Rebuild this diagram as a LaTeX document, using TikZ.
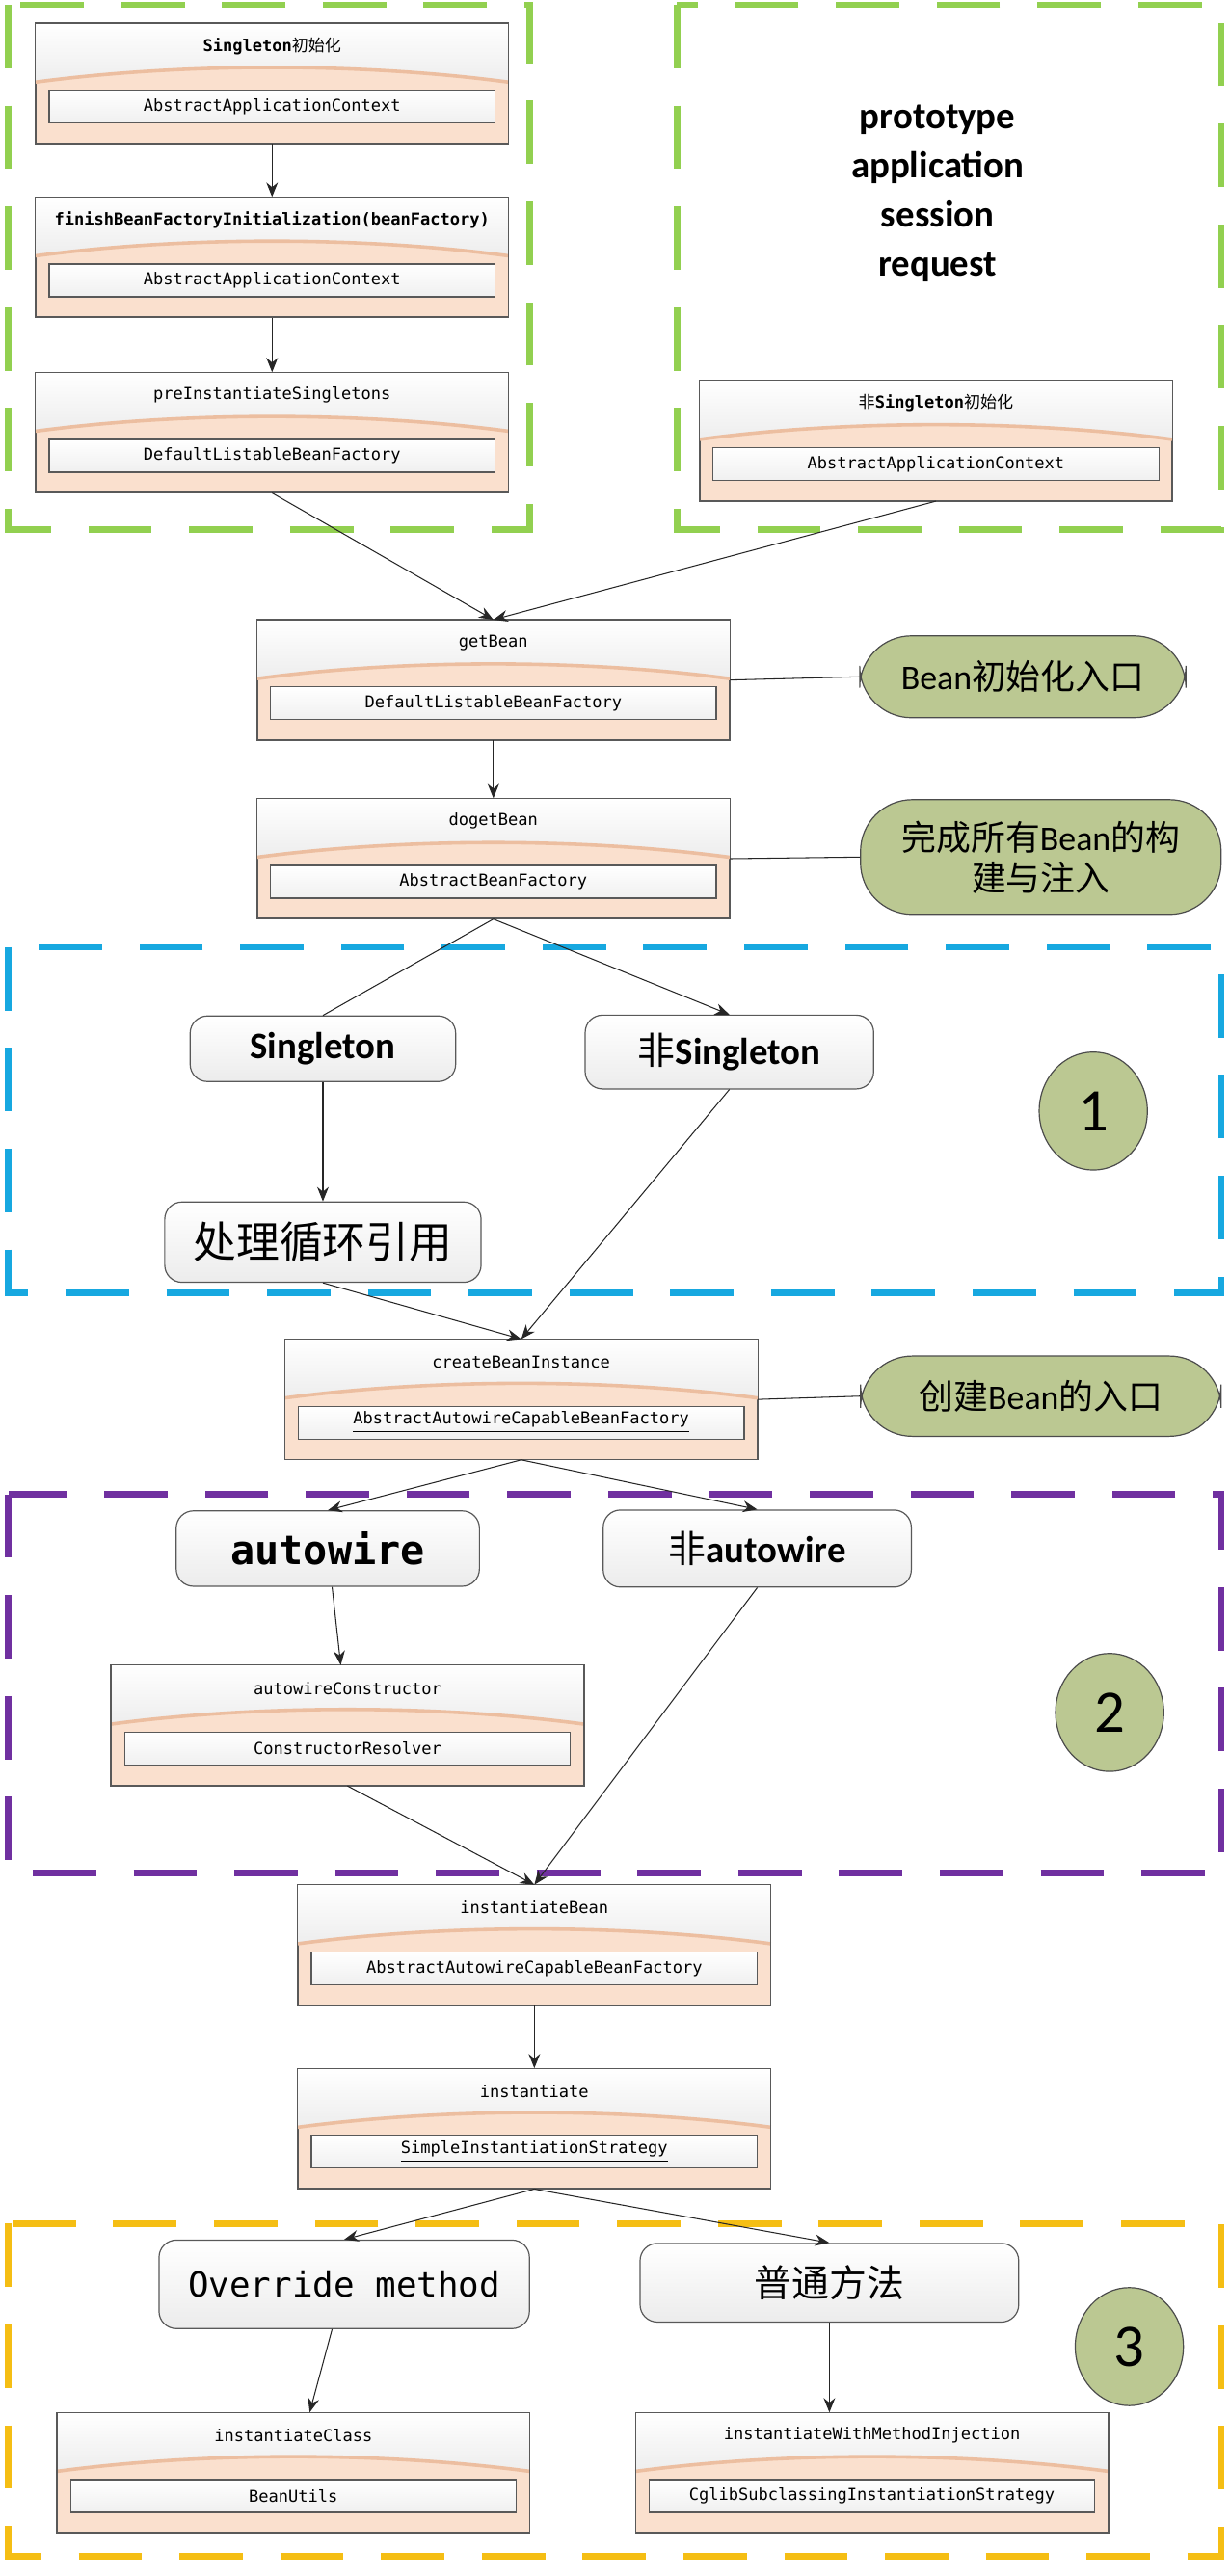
\documentclass[tikz,border=0pt]{standalone}
\usepackage{fontspec}
\setmainfont{Carlito}
\newfontfamily\mono{DejaVu Sans Mono}
\newfontfamily\cjk{Noto Sans CJK SC}
\usetikzlibrary{arrows.meta,shapes.geometric}

\def\u{0.02cm}
\definecolor{peach}{RGB}{250,224,206}
\definecolor{peachline}{RGB}{236,190,160}
\definecolor{olive}{RGB}{187,200,146}
\definecolor{grass}{RGB}{146,208,80}
\definecolor{sky}{RGB}{23,168,224}
\definecolor{plum}{RGB}{112,48,160}
\definecolor{gold}{RGB}{245,190,20}

\tikzset{
  clsbody/.style={draw=gray!70!black, fill=peach, minimum width=288*\u, minimum height=73*\u, inner sep=0pt},
  clsinner/.style={draw=gray!70!black, top color=white, bottom color=gray!12, minimum width=272*\u, minimum height=20*\u, inner sep=0pt, font=\mono\fontsize{5.7}{6}\selectfont},
  cond/.style={draw=gray!70!black, top color=white, bottom color=gray!15, rounded corners=6pt, inner sep=0pt},
  note/.style={draw=gray!60!black, fill=olive, rounded corners=18pt, inner sep=0pt, align=center, font=\fontsize{12}{14}\selectfont},
  num/.style={draw=gray!60!black, fill=olive, ellipse, minimum width=66*\u, minimum height=72*\u, font=\fontsize{21}{22}\selectfont},
  zone/.style={dash pattern=on 22pt off 13pt, line width=2.2pt},
  link/.style={draw=gray!30!black, line width=0.35pt, -{Stealth[length=5pt,width=4pt]}},
  tie/.style={draw=gray!30!black, line width=0.35pt}
}

% class box: name, cx, cy, title, sub
\newcommand{\clsbox}[5]{%
  \node[clsbody] (#1) at (#2,#3) {};
  \fill[top color=white, bottom color=gray!14] (#1.north west) -- (#1.north east) -- ([yshift=-36*\u]#1.north east)
    .. controls ([xshift=-90*\u,yshift=-24*\u]#1.north east) and ([xshift=90*\u,yshift=-24*\u]#1.north west) .. ([yshift=-36*\u]#1.north west) -- cycle;
  \draw[peachline, line width=1.2pt] ([yshift=-36*\u]#1.north east)
    .. controls ([xshift=-90*\u,yshift=-24*\u]#1.north east) and ([xshift=90*\u,yshift=-24*\u]#1.north west) .. ([yshift=-36*\u]#1.north west);
  \draw[gray!70!black] (#1.north west) rectangle (#1.south east);
  \node[font=\mono\fontsize{5.7}{6}\selectfont] (#1-t) at ([yshift=-14*\u]#1.north) {#4};
  \node[clsinner] (#1-s) at ([yshift=-51*\u]#1.north) {#5};
}

\begin{document}
\begin{tikzpicture}[x=0.02cm, y=-0.02cm]
\useasboundingbox (0,0) rectangle (750,1572);

% zones
\draw[zone, grass] (5,3) rectangle (323,323);
\draw[zone, grass] (413,3) rectangle (745,323);
\draw[zone, sky] (5,578) rectangle (745,789);
\draw[zone, plum] (5,912) rectangle (745,1143);
\draw[zone, gold] (5,1357) rectangle (745,1560);

% scopes
\node[align=center, font=\bfseries\fontsize{13}{17}\selectfont] (scopes) at (572,118) {prototype\\application\\session\\request};

% entry chain
\clsbox{sinit}{166}{51}{\textbf{Singleton}{\cjk 初始化}}{AbstractApplicationContext}
\clsbox{finish}{166}{157}{\textbf{finishBeanFactoryInitialization(beanFactory)}}{AbstractApplicationContext}
\clsbox{preinst}{166}{264}{preInstantiateSingletons}{DefaultListableBeanFactory}
\clsbox{nsinit}{571}{269}{{\cjk 非}\textbf{Singleton}{\cjk 初始化}}{AbstractApplicationContext}
\clsbox{getbean}{301}{415}{getBean}{DefaultListableBeanFactory}
\clsbox{dogetbean}{301}{524}{dogetBean}{AbstractBeanFactory}

\node[note, minimum width=199*\u, minimum height=50*\u] (entry) at (624,413) {Bean{\cjk 初始化入口}};
\node[note, minimum width=220*\u, minimum height=70*\u] (done) at (635,523) {{\cjk 完成所有}Bean{\cjk 的构}\\{\cjk 建与注入}};

% zone 1
\node[cond, minimum width=162*\u, minimum height=40*\u, font=\bfseries\fontsize{13}{14}\selectfont] (single) at (197,640) {Singleton};
\node[cond, minimum width=176*\u, minimum height=45*\u, font=\bfseries\fontsize{13}{14}\selectfont] (nsingle) at (445,642) {{\cjk\mdseries 非}Singleton};
\node[cond, minimum width=193*\u, minimum height=49*\u, font=\cjk\fontsize{15}{16}\selectfont] (cycle) at (197,758) {处理循环引用};
\node[num] (one) at (667,678) {1};

\clsbox{create}{318}{854}{createBeanInstance}{\underline{AbstractAutowireCapableBeanFactory}}
\node[note, minimum width=220*\u, minimum height=49*\u] (make) at (635,852) {{\cjk 创建}Bean{\cjk 的入口}};

% zone 2
\node[cond, minimum width=185*\u, minimum height=46*\u, font=\mono\bfseries\fontsize{14}{15}\selectfont] (auto) at (200,945) {autowire};
\node[cond, minimum width=188*\u, minimum height=47*\u, font=\bfseries\fontsize{13}{14}\selectfont] (nauto) at (462,945) {{\cjk\mdseries 非}autowire};
\clsbox{autoctor}{212}{1053}{autowireConstructor}{ConstructorResolver}
\node[num] (two) at (677,1045) {2};

\clsbox{instbean}{326}{1187}{instantiateBean}{AbstractAutowireCapableBeanFactory}
\clsbox{inst}{326}{1299}{instantiate}{\underline{SimpleInstantiationStrategy}}

% zone 3
\node[cond, minimum width=226*\u, minimum height=54*\u, font=\mono\fontsize{12}{13}\selectfont] (override) at (210,1394) {Override method};
\node[cond, minimum width=231*\u, minimum height=48*\u, font=\cjk\fontsize{13}{14}\selectfont] (plain) at (506,1393) {普通方法};
\clsbox{instclass}{179}{1509}{instantiateClass}{BeanUtils}
\clsbox{instinject}{532}{1509}{instantiateWithMethodInjection}{CglibSubclassingInstantiationStrategy}
\node[num] (three) at (689,1432) {3};

% connectors
\draw[link] (sinit) -- (finish);
\draw[link] (finish) -- (preinst);
\draw[link] (preinst.south) -- (getbean.north);
\draw[link] (nsinit.south) -- (getbean.north);
\draw[link] (getbean) -- (dogetbean);
\draw[tie] (getbean.east) -- (entry.west);
\draw[tie] (dogetbean.east) -- (done.west);
\draw[tie] (dogetbean.south) -- (single.north);
\draw[link] (dogetbean.south) -- (nsingle.north);
\draw[link] (single) -- (cycle);
\draw[link] (cycle.south) -- (create.north);
\draw[link] (nsingle.south) -- (create.north);
\draw[tie] (create.east) -- (make.west);
\draw[link] (create.south) -- (auto.north);
\draw[link] (create.south) -- (nauto.north);
\draw[link] (auto) -- (autoctor);
\draw[link] (autoctor.south) -- (instbean.north);
\draw[link] (nauto.south) -- (instbean.north);
\draw[link] (instbean) -- (inst);
\draw[link] (inst.south) -- (override.north);
\draw[link] (inst.south) -- (plain.north);
\draw[link] (override) -- (instclass);
\draw[link] (plain) -- (plain |- instinject.north);
\end{tikzpicture}
\end{document}
